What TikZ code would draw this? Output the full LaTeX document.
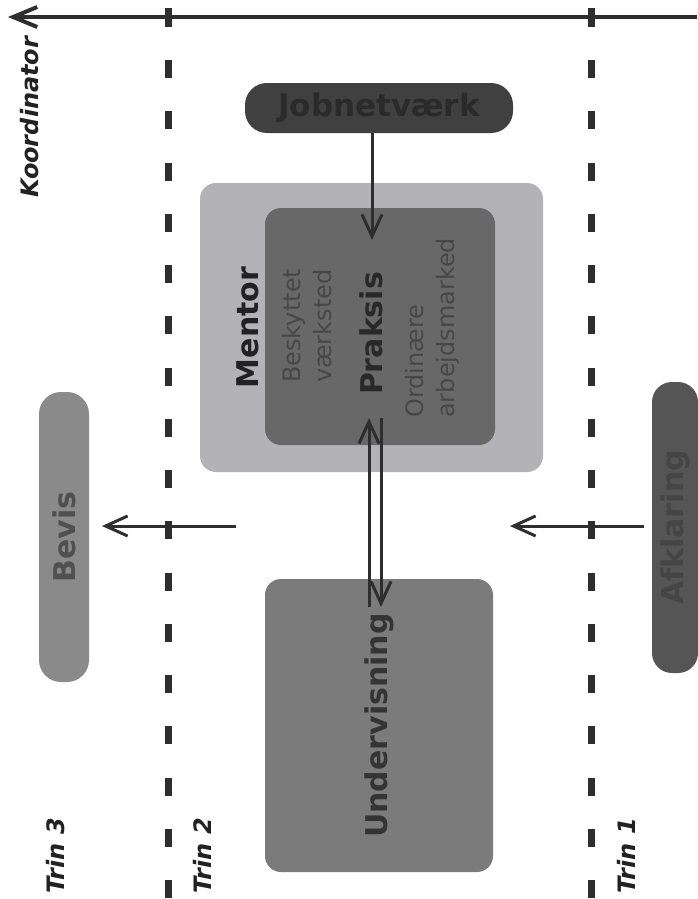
\documentclass[tikz,border=0pt]{standalone}
\usepackage{fontspec}
\setmainfont{DejaVu Sans}
\usetikzlibrary{arrows.meta}
\definecolor{linec}{HTML}{2E2E2E}
\definecolor{labelc}{HTML}{222222}
\definecolor{jobfill}{HTML}{404040}
\definecolor{jobtext}{HTML}{2A2A2A}
\definecolor{mentorfill}{HTML}{B3B3B7}
\definecolor{praksisfill}{HTML}{686868}
\definecolor{underfill}{HTML}{7B7B7B}
\definecolor{bevisfill}{HTML}{8A8A8A}
\definecolor{bevistext}{HTML}{505050}
\definecolor{afkfill}{HTML}{555555}
\definecolor{afktext}{HTML}{454545}
\definecolor{softtext}{HTML}{474747}
\tikzset{
  arr/.style={draw=linec, line width=3pt, -{Straight Barb[length=22pt,width=20pt]}},
  box/.style={rectangle, inner sep=0pt, draw=none},
  bigbold/.style={font=\bfseries\fontsize{30}{36}\selectfont},
  triplbl/.style={rotate=90, text=labelc, font=\bfseries\itshape\fontsize{24}{28}\selectfont},
  dashline/.style={draw=linec, line width=7pt, dash pattern=on 18pt off 33.25pt},
  tick/.style={draw=linec, line width=7pt},
  softlbl/.style={rotate=90, anchor=west, align=left, inner sep=0pt, text=softtext, font=\fontsize{24}{31}\selectfont}
}
\begin{document}
\begin{tikzpicture}[x=1pt,y=-1pt]
\useasboundingbox (0,0) rectangle (697,899);
\fill[white] (0,0) rectangle (697,899);
% coordinator axis
\coordinate (axR) at (697,17);
\coordinate (axL) at (8,17);
\draw[draw=linec, line width=4pt, -{Straight Barb[length=24pt,width=20pt]}] (axR) -- (axL);
\draw[tick] (168,8) -- (168,27);
\draw[tick] (591,8) -- (591,27);
% dashed stage borders
\draw[dashline] (168,60) -- (168,899);
\draw[dashline] (591,60) -- (591,899);
% labels
\node[triplbl] (koord) at (30,117) {Koordinator};
\node[triplbl] (trin3) at (56,856) {Trin 3};
\node[triplbl] (trin2) at (202,856) {Trin 2};
\node[triplbl] (trin1) at (626,856) {Trin 1};
% boxes
\node[box, fill=jobfill, rounded corners=22pt, minimum width=268pt, minimum height=50pt, text=jobtext, font=\bfseries\fontsize{31}{36}\selectfont] (job) at (379,108) {Jobnetværk};
\node[box, fill=mentorfill, rounded corners=16pt, minimum width=343pt, minimum height=289pt] (mentor) at (371.5,327.5) {};
\node[box, fill=praksisfill, rounded corners=16pt, minimum width=230pt, minimum height=237pt] (praksisbox) at (380,326.5) {};
\node[box, rotate=90, fill=underfill, rounded corners=16pt, minimum width=293pt, minimum height=228pt, text=labelc!80!underfill, bigbold] (under) at (379,725.5) {Undervisning};
\node[box, rotate=90, fill=bevisfill, rounded corners=22pt, minimum width=290pt, minimum height=50pt, text=bevistext, bigbold] (bevis) at (64,537) {Bevis};
\node[box, rotate=90, fill=afkfill, rounded corners=20pt, minimum width=291pt, minimum height=46pt, text=afktext, bigbold] (afk) at (675,527.5) {Afklaring};
% texts inside mentor / praksis
\node[rotate=90, text=labelc, bigbold] (mentorlbl) at (248,327.5) {Mentor};
\node[softlbl] (besk) at (307,383) {Beskyttet\\værksted};
\node[rotate=90, text=labelc!90!praksisfill, bigbold] (praksis) at (371,333.5) {Praksis};
\node[softlbl] (ordi) at (432,418) {Ordinære\\arbejdsmarked};
% connectors
\coordinate (jobtip) at (372,240);
\draw[arr] (job.south -| jobtip) -- (jobtip);
\coordinate (pk1) at (369,418);
\coordinate (un1) at (369,607);
\coordinate (pk2) at (381,418);
\coordinate (un2) at (381,607);
\draw[arr] (un1) -- (pk1);
\draw[arr] (pk2) -- (un2);
\coordinate (bevstart) at (236,526);
\coordinate (bevtip) at (102,526);
\draw[arr] (bevstart) -- (bevtip);
\coordinate (afkstart) at (644,526);
\coordinate (afktip) at (510,526);
\draw[arr] (afkstart) -- (afktip);
\end{tikzpicture}
\end{document}
